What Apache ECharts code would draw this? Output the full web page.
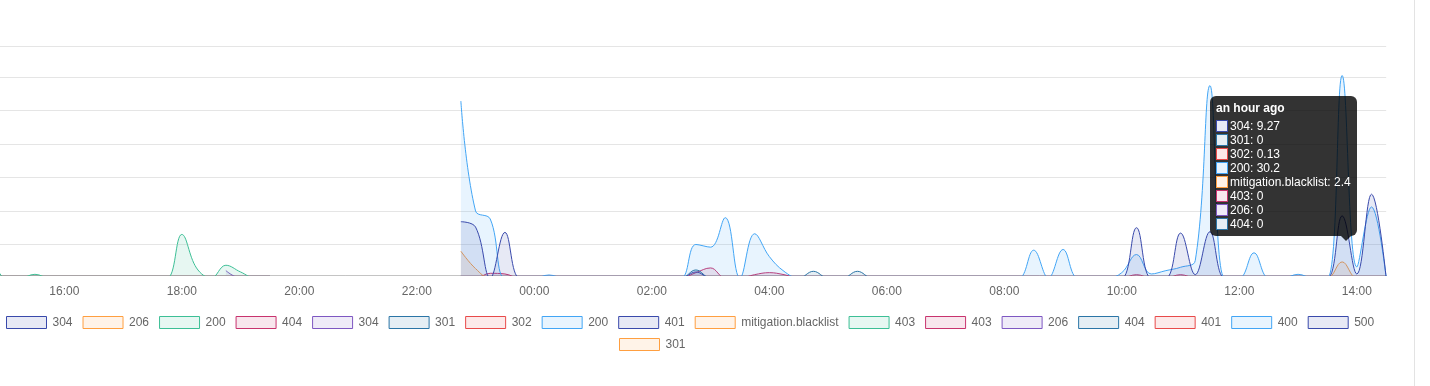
<!DOCTYPE html>
<html>
<head>
<meta charset="utf-8">
<script src="https://cdn.jsdelivr.net/npm/echarts@6/dist/echarts.min.js"></script>
<style>
html,body{margin:0;padding:0;background:#fff;overflow:hidden}
#chart{position:absolute;left:0;top:0;width:1430px;height:386px}
#edge{position:absolute;left:1414px;top:0;width:1px;height:386px;background:#e3e3e3}
</style>
</head>
<body>
<div id="chart"></div>
<div id="edge"></div>
<script>
const FONT = '"Liberation Sans", Arial, Helvetica, sans-serif';

// x-axis tick labels (every 2 hours, first one is off-canvas)
const X_LABELS = ['14:00','16:00','18:00','20:00','22:00','00:00','02:00','04:00','06:00','08:00','10:00','12:00','14:00'];

// legend labels, in dataset order
const LABELS = ['304','206','200','404','304','301','302','200','401','mitigation.blacklist','403','403','206','404','401','400','500','301'];
const PALETTE = ['#3949ab','#ff9f40','#3dbf96','#c8336e','#7e57c2','#2b75a6','#e84a4a','#42a5f5'];

// sampling times of the first group (afternoon/evening of day 1)
const TIMES_A = ['14:30','14:45','15:00','15:15','15:30','15:45','16:00','16:15','16:30','16:45','17:00','17:15','17:30','17:45','18:00','18:15','18:30','18:45','19:00','19:15','19:30'];
// sampling times of the second group (22:45 day 1 -> 14:30 day 2)
const TIMES_B = ['22:45','23:00','23:15','23:30','23:45','00:00','00:15','00:30',
                 '00:45','01:00','01:15','01:30','01:45','02:00','02:15','02:30',
                 '02:45','03:00','03:15','03:30','03:45','04:00','04:15','04:30',
                 '04:45','05:00','05:15','05:30','05:45','06:00','06:15','06:30',
                 '06:45','07:00','07:15','07:30','07:45','08:00','08:15','08:30',
                 '08:45','09:00','09:15','09:30','09:45','10:00','10:15','10:30',
                 '10:45','11:00','11:15','11:30','11:45','12:00','12:15','12:30',
                 '12:45','13:00','13:15','13:30','13:45','14:00','14:15','14:30'];

// group A values
const S200_A = [1.2,2.2,0,0,0.55,0,0,0,0,0,0,0,0,0,6.5,1.5,0,1.9,0.9,0,0];
const S304_A = [null,null,null,null,null,null,null,null,null,null,null,null,null,null,null,null,null,1.1,0,0,0];
const QUIET_A = [0,0,0,0,0,0,0,0,0,0,0,0,0,0,0,0,0,0,0,0,0];

// group B values
const S304_B = [8.4,7.6,0,6.8,0,0,0,0,
                0,0,0,0,0,0,0,0,
                0.9,0,0,0,0,0,0,0,
                0,0,0,0,0,0,0,0,
                0,0,0,0,0,0,0,0,
                0,0,0,0,0,0,7.5,0,
                0,6.7,0.5,6.9,0,0,0,0,
                0,0,0,0,9.27,0.6,12.5,0];
const S301_B = [0,0,0,0,0,0,0,0,
                0,0,0,0,0,0,0,0,
                1.2,0,0,0,0,0,0,0,
                1.0,0,0,1.0,0,0,0,0,
                0,0,0,0,0,0,0,0,
                0,0,0,0,0,0,0,0,
                0,0,0,0,0,0,0,0,
                0,0,0,0,0,0,0,0];
const S302_B = [0,0,0,0,0,0,0,0,
                0,0,0,0,0,0,0,0,
                0,0,0,0,0,0,0,0,
                0,0,0,0,0,0,0,0,
                0,0,0,0,0,0,0,0,
                0,0,0,0,0,0,0,0,
                0,0,0,0,0,0,0,0,
                0,0,0,0,0.13,0,0,0];
const S200_B = [26.4,10.0,8.8,0,0,0,0.45,0,
                0,0,0,0,0,0,0,0,
                5.0,4.6,9.0,0,6.6,3.2,1.0,0,
                0,0,0,0,0,0,0,0,
                0,0,0,0,0,0,0,4.15,
                0,4.25,0,0,0,0.8,3.5,0.6,
                1.1,1.6,2.6,28.7,0,0,3.75,0,
                0,0.55,0,0,30.2,1.65,10.6,0];
const MITIGATION_B = [4.0,1.4,0,0,0,0,0,0,
                0,0,0,0,0,0,0,0,
                0,0,0,0,0,0,0,0,
                0,0,0,0,0,0,0,0,
                0,0,0,0,0,0,0,0,
                0,0,0,0,0,0,0,0,
                0,0,0,0,0,0,0,0,
                0,0,0,0,2.4,0,0,0];
const S403_B = [0,0,0.7,0.6,0,0,0,0,
                0,0,0,0,0,0,0,0,
                0.8,1.5,0,0,0.5,0.8,0.5,0,
                0,0,0,0,0,0,0,0,
                0,0,0,0,0,0,0,0,
                0,0,0,0,0,0,0.5,0,
                0,0.5,0,0,0,0,0,0,
                0,0,0,0,0,0,0,0];
const S206_B = [0,0,0,0,0,0,0,0,
                0,0,0,0,0,0,0,0,
                0,0,0,0,0,0,0,0,
                0,0,0,0,0,0,0,0,
                0,0,0,0,0,0,0,0,
                0,0,0,0,0,0,0,0,
                0,0,0,0,0,0,0,0,
                0,0,0,0,0,0,0,0];
const S404_B = [0,0,0,0,0,0,0,0,
                0,0,0,0,0,0,0,0,
                0,0,0,0,0,0,0,0,
                0,0,0,0,0,0,0,0,
                0,0,0,0,0,0,0,0,
                0,0,0,0,0,0,0,0,
                0,0,0,0,0,0,0,0,
                0,0,0,0,0,0,0,0];

const TOOLTIP_TITLE = 'an hour ago';
const TOOLTIP_TIME = '13:45';

function toHours(list) {
  let day = 0, prev = -1;
  return list.map(s => {
    const p = s.split(':');
    const h = +p[0] + (+p[1]) / 60;
    if (h < prev) day += 24;
    prev = h;
    return h + day;
  });
}
const HA = toHours(TIMES_A);
const HB = toHours(TIMES_B);

// dataset i -> [times, values]
const SOURCES = [
  [HB, S304_B], [HA, QUIET_A], [HA, S200_A], [HA, QUIET_A], [HA, S304_A],
  [HB, S301_B], [HB, S302_B], [HB, S200_B], [HA, QUIET_A], [HB, MITIGATION_B],
  [HA, QUIET_A], [HB, S403_B], [HB, S206_B], [HB, S404_B], [HA, QUIET_A],
  [HA, QUIET_A], [HA, QUIET_A], [HA, QUIET_A]
];
const B_SERIES = [0,5,6,7,9,11,12,13];

function rgb(hex){ return [parseInt(hex.slice(1,3),16),parseInt(hex.slice(3,5),16),parseInt(hex.slice(5,7),16)]; }
function rgba(hex,a){ const c=rgb(hex); return `rgba(${c[0]},${c[1]},${c[2]},${a})`; }
function overWhite(hex,a){ const c=rgb(hex).map(v=>Math.round(255-(255-v)*a)); return `rgb(${c[0]},${c[1]},${c[2]})`; }
const FILL_A = 0.12;
const colorOf = i => PALETTE[i % PALETTE.length];

const series = SOURCES.map((src, i) => ({
  name: 's' + i,
  type: 'line',
  data: src[0].map((t, k) => [t, src[1][k]]),
  smooth: 0.4,
  symbol: 'none',
  showSymbol: false,
  clip: true,
  z: 30 - i,
  lineStyle: { width: 1, color: colorOf(i) },
  itemStyle: { color: colorOf(i) },
  areaStyle: { color: rgba(colorOf(i), FILL_A), opacity: 1 },
  emphasis: { disabled: true },
  animation: false
}));

const legendItem = i => ({
  name: 's' + i,
  icon: 'rect',
  itemStyle: { color: rgba(colorOf(i), FILL_A), borderColor: colorOf(i), borderWidth: 1 }
});
const legendCommon = {
  orient: 'horizontal',
  padding: 0,
  itemWidth: 40,
  itemHeight: 12,
  itemGap: 10,
  selectedMode: false,
  textStyle: { color: '#666', fontSize: 12, fontFamily: FONT, padding: [0,0,0,1] },
  formatter: name => LABELS[+name.slice(1)]
};

const chart = echarts.init(document.getElementById('chart'), null, { renderer: 'canvas' });
const tipIdx = TIMES_B.indexOf(TOOLTIP_TIME);

function tooltipHtml(idx) {
  let html = `<div style="font-weight:bold;height:12px;line-height:12px;margin-bottom:6px">${TOOLTIP_TITLE}</div>`;
  B_SERIES.forEach((si, n) => {
    const v = SOURCES[si][1][idx];
    const last = n === B_SERIES.length - 1;
    html += `<div style="height:12px;line-height:12px;margin-bottom:${last?0:2}px;display:flex;align-items:center">` +
      `<span style="display:inline-block;box-sizing:border-box;width:12px;height:12px;border:1px solid ${colorOf(si)};background:${overWhite(colorOf(si), FILL_A)}"></span>` +
      `<span style="margin-left:2px">${LABELS[si]}: ${v}</span></div>`;
  });
  html += '<div style="position:absolute;right:6px;bottom:-5px;width:0;height:0;border-left:5px solid transparent;border-right:5px solid transparent;border-top:5px solid rgba(0,0,0,0.8)"></div>';
  return html;
}

chart.setOption({
  animation: false,
  backgroundColor: '#fff',
  grid: { left: -53.2, top: 46, width: 1439.4, height: 229.5, containLabel: false, outerBoundsMode: 'none' },
  xAxis: {
    type: 'value', min: 14, max: 38.5, interval: 2,
    axisLine: { show: true, onZero: false, lineStyle: { color: '#c4c4c4', width: 1 } },
    axisTick: { show: false },
    splitLine: { show: false },
    axisLabel: {
      color: '#666', fontSize: 12, fontFamily: FONT, margin: 10,
      showMinLabel: false, showMaxLabel: false,
      formatter: v => { const k = Math.round((v - 14) / 2); return (Math.abs(v - 14 - 2*k) < 1e-6 && X_LABELS[k]) ? X_LABELS[k] : ''; }
    }
  },
  yAxis: {
    type: 'value', min: 0.373, max: 34.61, splitNumber: 5,
    axisLine: { show: false }, axisTick: { show: false }, axisLabel: { show: false },
    splitLine: { show: true, lineStyle: { color: 'rgba(0,0,0,0.1)', width: 1 } }
  },
  legend: [
    Object.assign({ left: 6, top: 316, width: 1420, data: LABELS.slice(0,17).map((_, i) => legendItem(i)) }, legendCommon),
    Object.assign({ left: 619, top: 338, width: 200, data: [legendItem(17)] }, legendCommon)
  ],
  tooltip: {
    trigger: 'axis',
    triggerOn: 'none',
    alwaysShowContent: true,
    showDelay: 0, hideDelay: 0, transitionDuration: 0,
    axisPointer: { type: 'none' },
    backgroundColor: 'rgba(0,0,0,0.8)',
    borderWidth: 0,
    borderColor: 'transparent',
    padding: 6,
    textStyle: { color: '#fff', fontSize: 12, fontFamily: FONT },
    extraCssText: 'box-shadow:none;border-radius:6px;',
    formatter: () => tooltipHtml(tipIdx),
    position: (point, params, dom, rect, size) => {
      let sum = 0;
      B_SERIES.forEach(si => { sum += SOURCES[si][1][tipIdx]; });
      const avg = sum / B_SERIES.length;
      const p = chart.convertToPixel({ gridIndex: 0 }, [HB[tipIdx], avg]);
      return [p[0] - size.contentSize[0] + 14.5, p[1] - size.contentSize[1] - 7];
    }
  },
  series: series
});

chart.dispatchAction({ type: 'showTip', seriesIndex: 7, dataIndex: tipIdx });
</script>
</body>
</html>
